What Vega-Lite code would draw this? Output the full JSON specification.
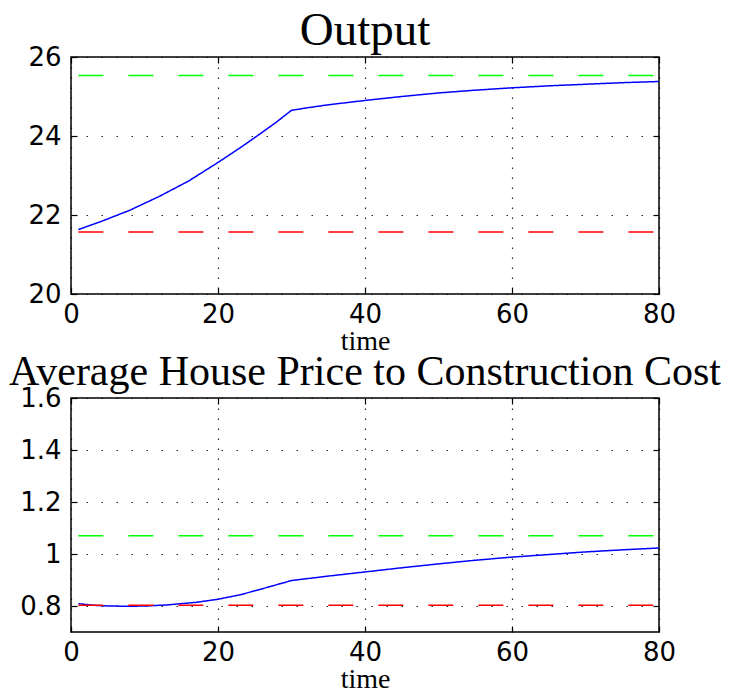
{
  "$schema": "https://vega.github.io/schema/vega-lite/v6.json",
  "padding": {"left": 8, "top": 6, "right": 5, "bottom": 0},
  "bounds": "flush",
  "spacing": 104,
  "datasets": {
    "output": [
      {"t": 1, "value": 21.63, "series": "sim"},
      {"t": 4, "value": 21.83, "series": "sim"},
      {"t": 8, "value": 22.12, "series": "sim"},
      {"t": 12, "value": 22.47, "series": "sim"},
      {"t": 16, "value": 22.86, "series": "sim"},
      {"t": 20, "value": 23.33, "series": "sim"},
      {"t": 23, "value": 23.70, "series": "sim"},
      {"t": 26, "value": 24.09, "series": "sim"},
      {"t": 28, "value": 24.36, "series": "sim"},
      {"t": 30, "value": 24.65, "series": "sim"},
      {"t": 32, "value": 24.71, "series": "sim"},
      {"t": 35, "value": 24.79, "series": "sim"},
      {"t": 40, "value": 24.90, "series": "sim"},
      {"t": 45, "value": 25.00, "series": "sim"},
      {"t": 50, "value": 25.09, "series": "sim"},
      {"t": 55, "value": 25.16, "series": "sim"},
      {"t": 60, "value": 25.22, "series": "sim"},
      {"t": 65, "value": 25.27, "series": "sim"},
      {"t": 70, "value": 25.31, "series": "sim"},
      {"t": 75, "value": 25.35, "series": "sim"},
      {"t": 80, "value": 25.38, "series": "sim"},
      {"t": 1, "value": 25.53, "series": "upper"},
      {"t": 80, "value": 25.53, "series": "upper"},
      {"t": 1, "value": 21.57, "series": "lower"},
      {"t": 80, "value": 21.57, "series": "lower"}
    ],
    "ratio": [
      {"t": 1, "value": 0.809, "series": "sim"},
      {"t": 3, "value": 0.803, "series": "sim"},
      {"t": 5, "value": 0.800, "series": "sim"},
      {"t": 8, "value": 0.799, "series": "sim"},
      {"t": 10, "value": 0.800, "series": "sim"},
      {"t": 13, "value": 0.804, "series": "sim"},
      {"t": 17, "value": 0.814, "series": "sim"},
      {"t": 20, "value": 0.826, "series": "sim"},
      {"t": 23, "value": 0.843, "series": "sim"},
      {"t": 26, "value": 0.866, "series": "sim"},
      {"t": 28, "value": 0.882, "series": "sim"},
      {"t": 30, "value": 0.898, "series": "sim"},
      {"t": 35, "value": 0.915, "series": "sim"},
      {"t": 40, "value": 0.931, "series": "sim"},
      {"t": 45, "value": 0.947, "series": "sim"},
      {"t": 50, "value": 0.962, "series": "sim"},
      {"t": 55, "value": 0.976, "series": "sim"},
      {"t": 60, "value": 0.988, "series": "sim"},
      {"t": 65, "value": 0.998, "series": "sim"},
      {"t": 70, "value": 1.008, "series": "sim"},
      {"t": 75, "value": 1.016, "series": "sim"},
      {"t": 80, "value": 1.023, "series": "sim"},
      {"t": 1, "value": 1.07, "series": "upper"},
      {"t": 80, "value": 1.07, "series": "upper"},
      {"t": 1, "value": 0.8025, "series": "lower"},
      {"t": 80, "value": 0.8025, "series": "lower"}
    ]
  },
  "vconcat": [
    {
      "width": 588,
      "height": 237,
      "title": {"text": "Output", "fontSize": 47, "frame": "group", "anchor": "middle", "offset": -11},
      "data": {"name": "output"},
      "layer": [
        {
          "mark": {"type": "line", "strokeWidth": 1.5, "clip": true},
          "encoding": {
            "x": {"field": "t", "type": "quantitative", "title": "time",
                  "scale": {"domain": [0, 80], "nice": false, "zero": false},
                  "axis": {"values": [0, 20, 40, 60, 80]}},
            "y": {"field": "value", "type": "quantitative", "title": null,
                  "scale": {"domain": [20, 26], "nice": false, "zero": false},
                  "axis": {"values": [20, 22, 24, 26]}},
            "color": {"field": "series", "type": "nominal", "legend": null,
                      "scale": {"domain": ["sim", "upper", "lower"], "range": ["#0000ff", "#00ff00", "#ff0000"]}},
            "strokeDash": {"field": "series", "type": "nominal", "legend": null,
                      "scale": {"domain": ["sim", "upper", "lower"], "range": [[1, 0], [25, 25], [25, 25]]}}
          }
        },
        {
          "mark": {"type": "line", "opacity": 0},
          "encoding": {
            "x": {"field": "t", "type": "quantitative", "title": null,
                  "axis": {"orient": "top", "values": [0, 20, 40, 60, 80], "labels": false, "grid": false}},
            "y": {"field": "value", "type": "quantitative", "title": null,
                  "axis": {"orient": "right", "values": [20, 22, 24, 26], "labels": false, "grid": false}}
          }
        }
      ],
      "resolve": {"axis": {"x": "independent", "y": "independent"}}
    },
    {
      "width": 588,
      "height": 234,
      "title": {"text": "Average House Price to Construction Cost", "fontSize": 42, "frame": "group", "anchor": "middle", "offset": -9},
      "data": {"name": "ratio"},
      "layer": [
        {
          "mark": {"type": "line", "strokeWidth": 1.5, "clip": true},
          "encoding": {
            "x": {"field": "t", "type": "quantitative", "title": "time",
                  "scale": {"domain": [0, 80], "nice": false, "zero": false},
                  "axis": {"values": [0, 20, 40, 60, 80]}},
            "y": {"field": "value", "type": "quantitative", "title": null,
                  "scale": {"domain": [0.7, 1.6], "nice": false, "zero": false},
                  "axis": {"values": [0.8, 1, 1.2, 1.4, 1.6], "format": "~g"}},
            "color": {"field": "series", "type": "nominal", "legend": null,
                      "scale": {"domain": ["sim", "upper", "lower"], "range": ["#0000ff", "#00ff00", "#ff0000"]}},
            "strokeDash": {"field": "series", "type": "nominal", "legend": null,
                      "scale": {"domain": ["sim", "upper", "lower"], "range": [[1, 0], [25, 25], [25, 25]]}}
          }
        },
        {
          "mark": {"type": "line", "opacity": 0},
          "encoding": {
            "x": {"field": "t", "type": "quantitative", "title": null,
                  "axis": {"orient": "top", "values": [0, 20, 40, 60, 80], "labels": false, "grid": false}},
            "y": {"field": "value", "type": "quantitative", "title": null,
                  "axis": {"orient": "right", "values": [0.8, 1, 1.2, 1.4, 1.6], "labels": false, "grid": false}}
          }
        }
      ],
      "resolve": {"axis": {"x": "independent", "y": "independent"}}
    }
  ],
  "config": {
    "background": "white",
    "view": {"stroke": "black", "strokeWidth": 1.5},
    "axis": {
      "domain": false,
      "grid": true,
      "gridColor": "black",
      "gridWidth": 1.2,
      "gridOpacity": 0.85,
      "ticks": true,
      "tickColor": "black",
      "tickSize": -6,
      "tickWidth": 1.2,
      "labelFont": "DejaVu Sans",
      "labelFontSize": 26,
      "labelColor": "black",
      "labelFlush": false,
      "labelOverlap": false,
      "titleFont": "Liberation Serif",
      "titleFontWeight": "normal",
      "titleFontSize": 28,
      "titleColor": "black"
    },
    "axisX": {"gridDash": [1.5, 8.5], "labelPadding": 13, "titlePadding": 0},
    "axisY": {"gridDash": [1.5, 13.5], "labelPadding": 16},
    "title": {"font": "Liberation Serif", "fontWeight": "normal", "color": "black"}
  }
}
